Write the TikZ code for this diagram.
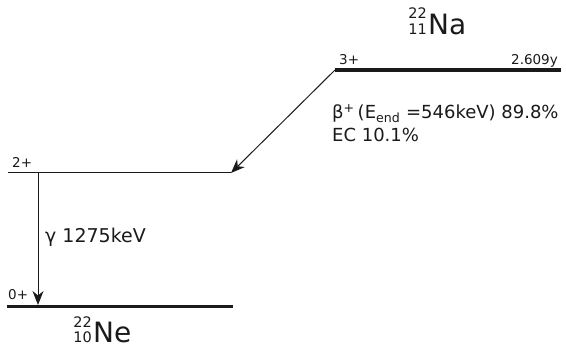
\documentclass[tikz,border=0pt]{standalone}
\usepackage{fontspec}
\setmainfont{DejaVu Sans}
\usetikzlibrary{arrows.meta}
\definecolor{ink}{HTML}{1A1A1A}
\tikzset{
  thicklevel/.style={line width=3.4pt, draw=ink},
  thinlevel/.style={line width=1pt, draw=ink},
  trans/.style={line width=1pt, draw=ink, -{Stealth[length=14pt,width=11pt,inset=4.5pt]}},
  lbl/.style={inner sep=0pt, text=ink, font=\fontsize{13.5}{15}\selectfont},
  big/.style={inner sep=0pt, text=ink, font=\fontsize{28}{30}\selectfont},
  iso/.style={inner sep=0pt, text=ink, font=\fontsize{14.5}{15}\selectfont},
  txt/.style={inner sep=0pt, text=ink, font=\fontsize{18}{21}\selectfont},
}
\begin{document}
\begin{tikzpicture}[x=1pt,y=-1pt]
\useasboundingbox (0,0) rectangle (566,350);
% levels
\coordinate (naL) at (335,70);
\coordinate (naR) at (561,70);
\coordinate (twoL) at (8,173);
\coordinate (twoR) at (231,173);
\coordinate (zeroL) at (7,306.5);
\coordinate (zeroR) at (233,306.5);
\coordinate (gtop) at (38,173);
\coordinate (gbot) at (38,305);
\draw[thicklevel] (naL) -- (naR);
\draw[thinlevel] (twoL) -- (twoR);
\draw[thicklevel] (zeroL) -- (zeroR);
% transitions
\draw[trans] (naL) -- (twoR);
\draw[trans] (gtop) -- (gbot);
% labels
\node[lbl, anchor=base west] (s3) at (339,64.5) {3+};
\node[lbl, anchor=base east] (hl) at (558,64.5) {2.609y};
\node[lbl, anchor=base west] (s2) at (12,167.5) {2+};
\node[lbl, anchor=base west] (s0) at (8,300) {0+};
\node[txt, anchor=base west, font=\fontsize{19}{21}\selectfont] (gam) at (45,243) {γ 1275keV};
\node[txt, anchor=base west] (beta) at (332,118.5) {β\textsuperscript{+}\,(E\textsubscript{end} =546keV) 89.8\%};
\node[txt, anchor=base west] (ec) at (332,142) {EC 10.1\%};
% isotope labels
\node[big, anchor=base west] (na) at (428,35) {Na};
\node[iso, anchor=base east] (naA) at (427,18.5) {22};
\node[iso, anchor=base east] (naZ) at (427,35) {11};
\node[big, anchor=base west] (ne) at (93,343) {Ne};
\node[iso, anchor=base east] (neA) at (92,327) {22};
\node[iso, anchor=base east] (neZ) at (92,343) {10};
\end{tikzpicture}
\end{document}
